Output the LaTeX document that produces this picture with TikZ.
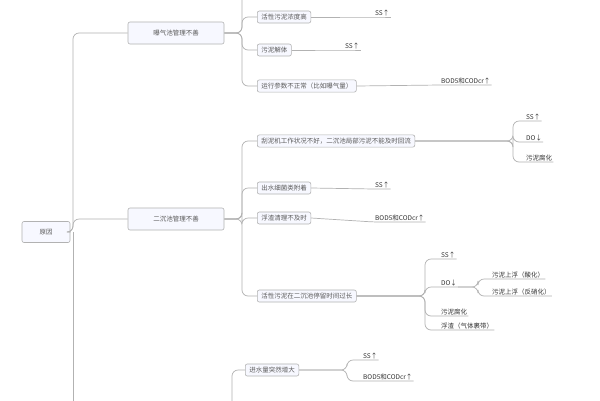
\documentclass[tikz,border=0pt]{standalone}
\usepackage{fontspec}
\newfontfamily\cjk{Noto Sans CJK SC}
\begin{document}
\begin{tikzpicture}[x=1pt,y=-1pt,
  every node/.style={font=\cjk\fontsize{6.5}{7}\selectfont, text=black!65},
  box/.style={draw=black!30, fill=green!4!blue!3, rounded corners=2pt, inner xsep=4pt, inner ysep=3pt, line width=0.6pt},
  lbox/.style={box, minimum height=22pt, inner xsep=8pt},
  leaf/.style={inner sep=1pt, anchor=south west, text=black!80},
  conn/.style={draw=black!30, line width=0.7pt, rounded corners=6pt}]
\useasboundingbox (0,0) rectangle (600,400);
\fill[white] (0,0) rectangle (600,400);
\begin{scope}
\clip (0,0) rectangle (600,400);
% level 0/1
\node[box, minimum width=48pt, minimum height=21pt] (root) at (46,232) {原因};
\node[lbox, minimum width=96pt] (a) at (176,33) {曝气池管理不善};
\node[lbox, minimum width=96pt] (b) at (176,219) {二沉池管理不善};
\coordinate (c) at (232,410);
\coordinate (atop) at (257,-12);
\draw[conn] (root.east) -- (73,232) |- (a.west);
\draw[conn] (root.east) -- (73,232) |- (b.west);
\draw[conn] (73,232) -- (73,410);
% branch a
\node[box, anchor=west] (a1) at (257,17) {活性污泥浓度高};
\node[box, anchor=west] (a2) at (257,50) {污泥解体};
\node[box, anchor=west] (a3) at (257,86) {运行参数不正常（比如曝气量）};
\foreach \n in {a1,a2,a3} \draw[conn] (a.east) -- (242,33) |- (\n.west);
\draw[conn] (a.east) -- (242,33) |- (atop);
\node[leaf] (a1s) at (374,17) {SS↑};
\node[leaf] (a2s) at (344,50) {SS↑};
\node[leaf] (a3s) at (440,85) {BOD5和CODcr↑};
\draw[conn] (a1.east) -- (a1s.south west) -- (a1s.south east);
\draw[conn] (a2.east) -- (a2s.south west) -- (a2s.south east);
\draw[conn] (a3.east) -- (a3s.south west) -- (a3s.south east);
% branch b
\node[box, anchor=west] (b1) at (257,141) {刮泥机工作状况不好，二沉池局部污泥不能及时回流};
\node[box, anchor=west] (b2) at (257,188) {出水细菌类附着};
\node[box, anchor=west] (b3) at (257,218) {浮渣清理不及时};
\node[box, anchor=west] (b4) at (257,296) {活性污泥在二沉池停留时间过长};
\foreach \n in {b1,b2,b3,b4} \draw[conn] (b.east) -- (242,219) |- (\n.west);
\node[leaf] (b1a) at (525,121) {SS↑};
\node[leaf] (b1b) at (525,142) {DO↓};
\node[leaf] (b1c) at (525,162) {污泥腐化};
\foreach \n in {b1a,b1b,b1c} \draw[conn] (b1.east) -- (513,141) |- (\n.south west) -- (\n.south east);
\node[leaf] (b2s) at (374,189) {SS↑};
\node[leaf] (b3s) at (374,222) {BOD5和CODcr↑};
\draw[conn] (b2.east) -- (b2s.south west) -- (b2s.south east);
\draw[conn] (b3.east) -- (b3s.south west) -- (b3s.south east);
\node[leaf] (b4a) at (440,259) {SS↑};
\node[leaf] (b4b) at (440,287) {DO↓};
\node[leaf] (b4c) at (440,316) {污泥腐化};
\node[leaf] (b4d) at (440,330) {浮渣（气体裹带）};
\foreach \n in {b4a,b4b,b4c,b4d} \draw[conn] (b4.east) -- (425,296) |- (\n.south west) -- (\n.south east);
\node[leaf] (d1) at (491,279) {污泥上浮（酸化）};
\node[leaf] (d2) at (491,296) {污泥上浮（反硝化）};
\foreach \n in {d1,d2} \draw[conn] (b4b.south east) -- (478,287) |- (\n.south west) -- (\n.south east);
% branch c
\node[box, anchor=west] (c1) at (245,370) {进水量突然增大};
\draw[conn] (c) |- (c1.west);
\node[leaf] (c1a) at (362,360) {SS↑};
\node[leaf] (c1b) at (362,381) {BOD5和CODcr↑};
\foreach \n in {c1a,c1b} \draw[conn] (c1.east) -- (347,370) |- (\n.south west) -- (\n.south east);
\end{scope}
\end{tikzpicture}
\end{document}
